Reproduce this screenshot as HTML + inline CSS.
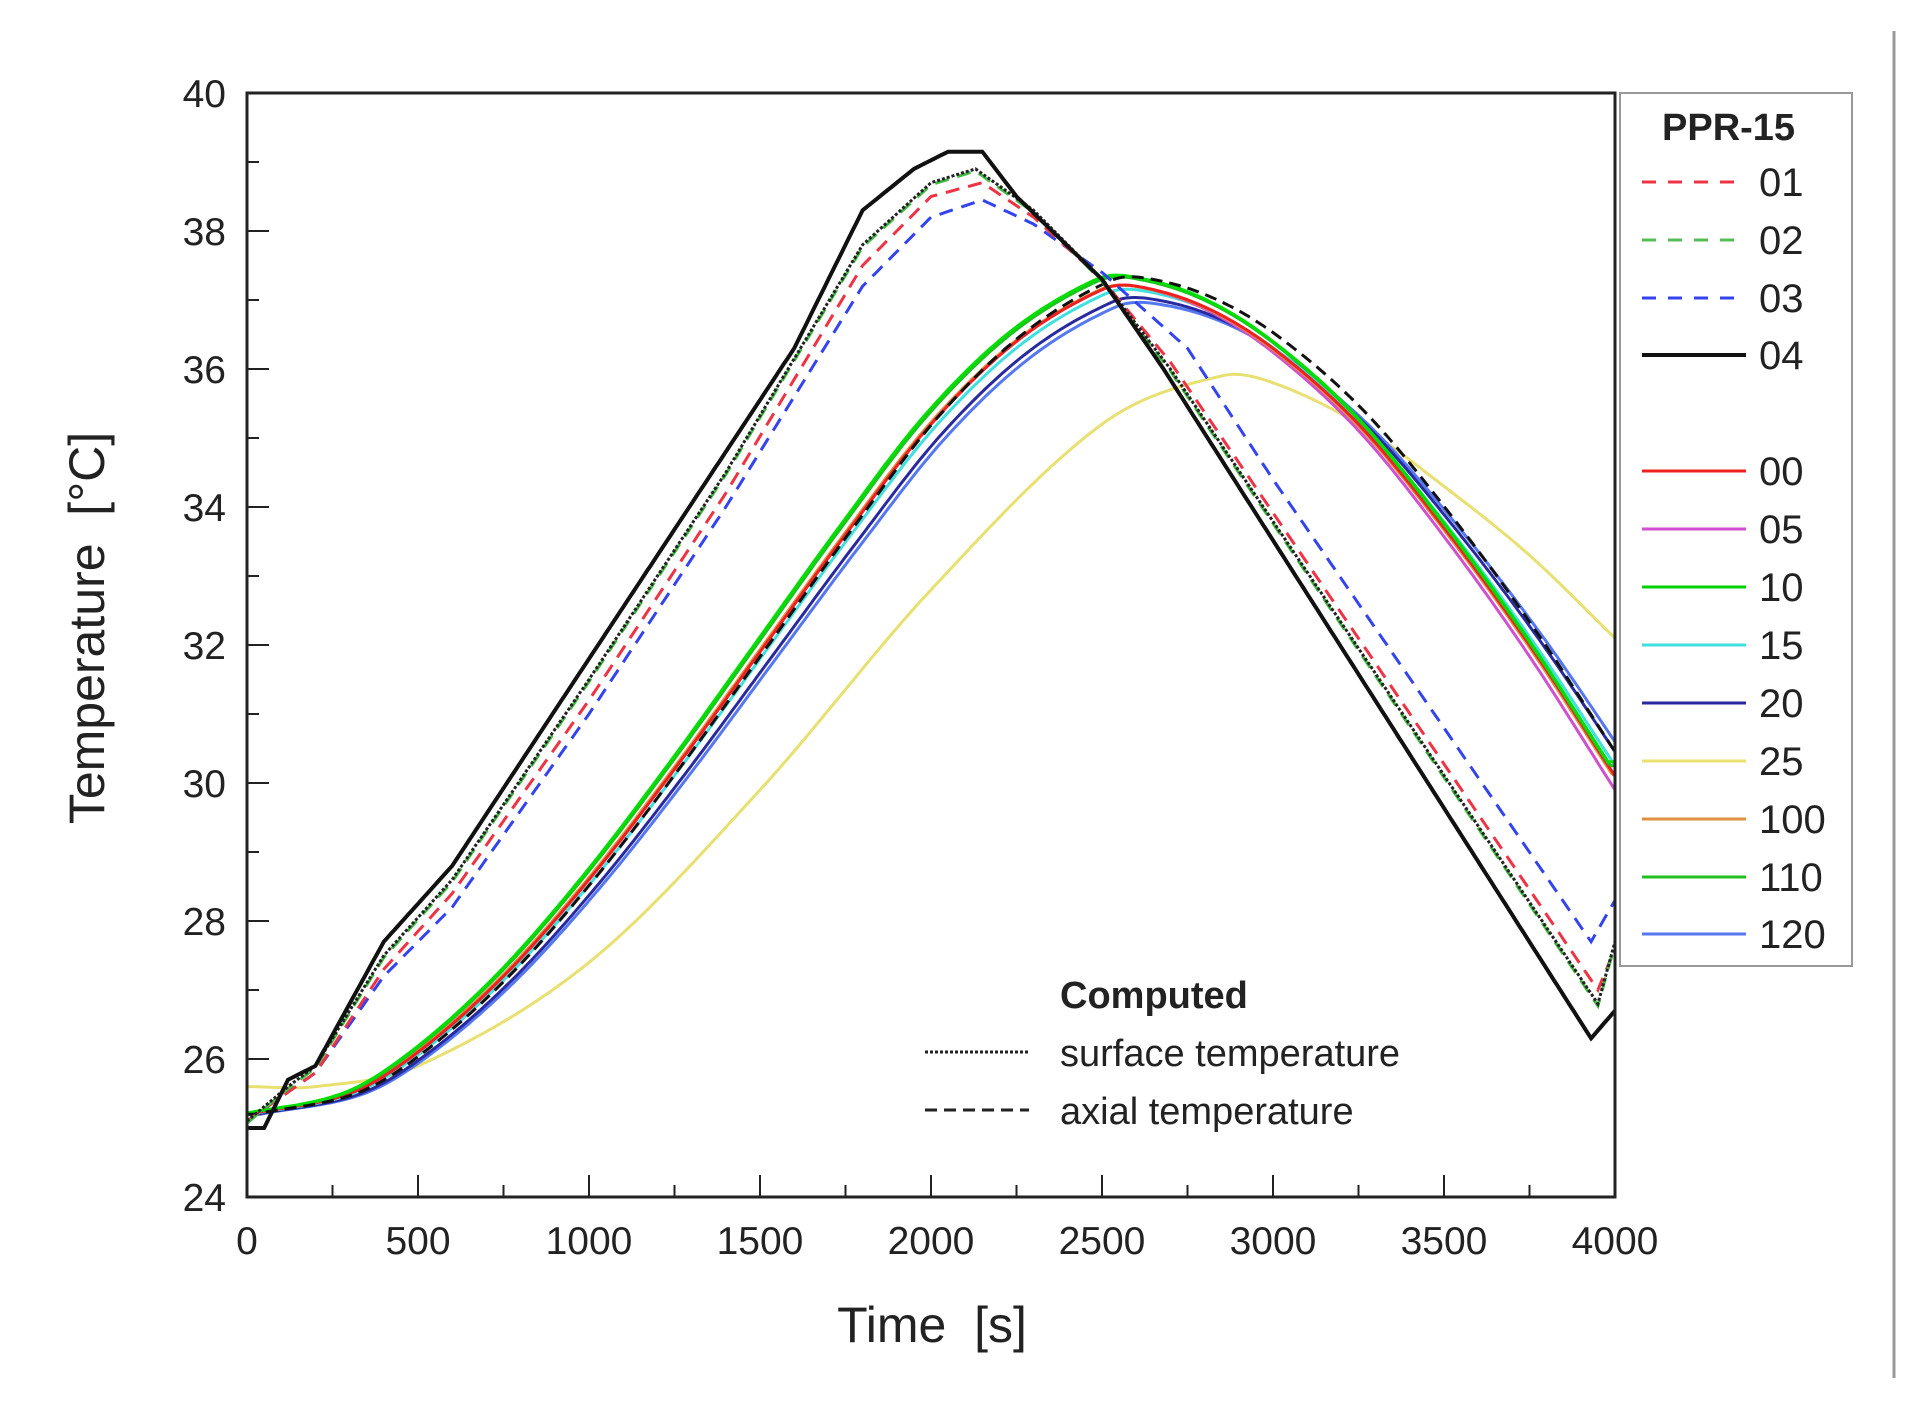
<!DOCTYPE html>
<html><head><meta charset="utf-8"><style>
html,body{margin:0;padding:0;background:#fff;}
svg{display:block;font-family:"Liberation Sans",sans-serif;}
</style></head><body>
<svg id="s" width="1928" height="1408" viewBox="0 0 1928 1408" xmlns="http://www.w3.org/2000/svg">
<rect width="1928" height="1408" fill="#fff"/>
<line x1="1894" y1="31" x2="1894" y2="1378" stroke="#999" stroke-width="3"/>
<g id="ticks" stroke="#222" stroke-width="2"></g>
<g id="curves" fill="none"></g>
<rect x="247" y="93" width="1368" height="1104" fill="none" stroke="#222" stroke-width="3"/>
<g id="labels" font-size="39" fill="#222"></g>
<text x="932" y="1342" font-size="50" text-anchor="middle" fill="#222" style="white-space:pre">Time  [s]</text>
<text transform="translate(104,628) rotate(-90)" font-size="50" text-anchor="middle" fill="#222" style="white-space:pre">Temperature  [°C]</text>
<rect x="1620" y="93" width="232" height="873" fill="#fff" stroke="#999" stroke-width="2"/>
<text x="1662" y="140" font-size="38" font-weight="bold" fill="#222">PPR-15</text>
<g id="leg" font-size="40" fill="#222"></g>
<text x="1060" y="1008" font-size="38" font-weight="bold" fill="#222">Computed</text>
<line x1="925" y1="1052" x2="1029" y2="1052" stroke="#222" stroke-width="3" stroke-dasharray="3,2"/>
<text x="1060" y="1066" font-size="38" fill="#222">surface temperature</text>
<line x1="925" y1="1110" x2="1029" y2="1110" stroke="#222" stroke-width="3" stroke-dasharray="12,7"/>
<text x="1060" y="1124" font-size="38" fill="#222">axial temperature</text>
</svg>
<script>
var NS="http://www.w3.org/2000/svg";
function el(p,t,a,txt){var e=document.createElementNS(NS,t);for(var k in a)e.setAttribute(k,a[k]);if(txt!==undefined)e.textContent=txt;document.getElementById(p).appendChild(e);return e;}
function px(t){return 247+0.342*t;}function py(T){return 1197-69*(T-24);}
for(var t=0;t<=4000;t+=250){var big=t%500==0;el('ticks','line',{x1:px(t),x2:px(t),y1:1197,y2:1197-(big?22:12)});if(big)el('labels','text',{x:px(t),y:1254,'text-anchor':'middle'},t);}
for(var T=24;T<=40;T+=1){var big=T%2==0;el('ticks','line',{x1:247,x2:247+(big?22:12),y1:py(T),y2:py(T)});if(big)el('labels','text',{x:226,y:py(T)+14,'text-anchor':'end'},T);}
function interp(pts,t){if(t<=pts[0][0])return pts[0][1];for(var i=1;i<pts.length;i++){if(t<=pts[i][0]){var a=pts[i-1],b=pts[i];var f=(t-a[0])/(b[0]-a[0]);var p0=pts[Math.max(i-2,0)],p3=pts[Math.min(i+1,pts.length-1)];
var m1=(b[1]-p0[1])/(b[0]-p0[0]||1)*(b[0]-a[0]),m2=(p3[1]-a[1])/(p3[0]-a[0]||1)*(b[0]-a[0]);var f2=f*f,f3=f2*f;
return (2*f3-3*f2+1)*a[1]+(f3-2*f2+f)*m1+(-2*f3+3*f2)*b[1]+(f3-f2)*m2;}}return pts[pts.length-1][1];}
function lin(pts,t){if(t<=pts[0][0])return pts[0][1];for(var i=1;i<pts.length;i++){if(t<=pts[i][0]){var a=pts[i-1],b=pts[i];return a[1]+(b[1]-a[1])*(t-a[0])/(b[0]-a[0]);}}return pts[pts.length-1][1];}
function draw(fn,col,w,dash){var d="";for(var t=0;t<=4000;t+=10){d+=(t?"L":"M")+px(t).toFixed(1)+","+py(fn(t)).toFixed(1);}var a={d:d,stroke:col,'stroke-width':w};if(dash)a['stroke-dasharray']=dash;el('curves','path',a);}
var base=[[0,25.2],[300,25.5],[500,26.1],[750,27.2],[1000,28.6],[1250,30.2],[1500,31.9],[1750,33.6],[2000,35.2],[2250,36.4],[2500,37.15],[2600,37.2],[2800,36.9],[3000,36.3],[3250,35.2],[3500,33.7],[3750,32.0],[4000,30.1]];
function grp(dt,k,end){return function(t){var v=25.2+k*(interp(base,t-dt)-25.2);return v+(end||0)*Math.max(0,(t-2600)/1400);};}
var yel=[[0,25.6],[200,25.6],[500,25.9],[1000,27.4],[1500,29.9],[2000,32.8],[2500,35.2],[2850,35.9],[3000,35.8],[3250,35.2],[3500,34.3],[3750,33.3],[4000,32.1]];
draw(function(t){return interp(yel,t);},"#e8e070",3);
draw(grp(40,0.979,0.3),"#5577f0",3);
draw(grp(30,0.985,0.2),"#2a2aa0",3);
draw(grp(10,0.995,0.1),"#40e0e0",3);
draw(grp(0,1,-0.2),"#d050d0",3);
draw(grp(-5,1.0,0),"#e09040",3);
draw(grp(0,1,0),"#ee2020",3);
draw(grp(-15,1.01,0.1),"#20c020",3);
draw(grp(-20,1.012,0.15),"#00e000",3);
draw(grp(20,1.01,0.15),"#111",3,"12,7");
var b04=[[0,25],[50,25],[120,25.7],[200,25.9],[300,26.8],[400,27.7],[600,28.8],[800,30.3],[1000,31.8],[1200,33.3],[1400,34.8],[1600,36.3],[1800,38.3],[1950,38.9],[2050,39.15],[2150,39.15],[2250,38.5],[2500,37.3],[2680,36],[3930,26.3],[4000,26.7]];
var sd=[[0,25.1],[120,25.6],[200,25.9],[400,27.5],[600,28.6],[1000,31.5],[1400,34.5],[1800,37.8],[2000,38.7],[2130,38.9],[2300,38.3],[2500,37.3],[2700,36],[3950,26.8],[4000,27.7]];
var r01=[[0,25.1],[200,25.8],[400,27.3],[600,28.4],[1000,31.2],[1400,34.2],[1800,37.5],[2000,38.5],[2150,38.7],[2300,38.2],[2500,37.3],[2700,36.1],[3950,27.0],[4000,27.6]];
var b03=[[0,25.1],[200,25.8],[400,27.2],[600,28.2],[1000,31.0],[1400,34.0],[1800,37.2],[2000,38.2],[2150,38.45],[2300,38.1],[2500,37.4],[2750,36.3],[3000,34.4],[3930,27.7],[4000,28.3]];
function L(p){return function(t){return lin(p,t);};}
draw(L(b03),"#3344ee",3,"14,9");
draw(L(r01),"#ee3344",3,"14,9");
draw(function(t){return lin(sd,t)-0.03;},"#44bb44",3,"14,9");
draw(L(sd),"#222",3,"3,2");
draw(L(b04),"#111",4);
var rows=[["01","#ee3344","14,12",182],["02","#55bb55","14,12",240],["03","#3344ee","14,12",298],["04","#111","",355],
["00","#ee2020","",471],["05","#d050d0","",529],["10","#00d000","",587],["15","#40e0e0","",645],["20","#2a2aa0","",703],["25","#e8e070","",761],["100","#e09040","",819],["110","#20c020","",877],["120","#5577f0","",934]];
rows.forEach(function(r){var a={x1:1642,x2:1746,y1:r[3],y2:r[3],stroke:r[1],'stroke-width':r[0]=="04"?4:3};if(r[2])a['stroke-dasharray']=r[2];el('leg','line',a);el('leg','text',{x:1759,y:r[3]+14},r[0]);});
</script>
</body></html>
